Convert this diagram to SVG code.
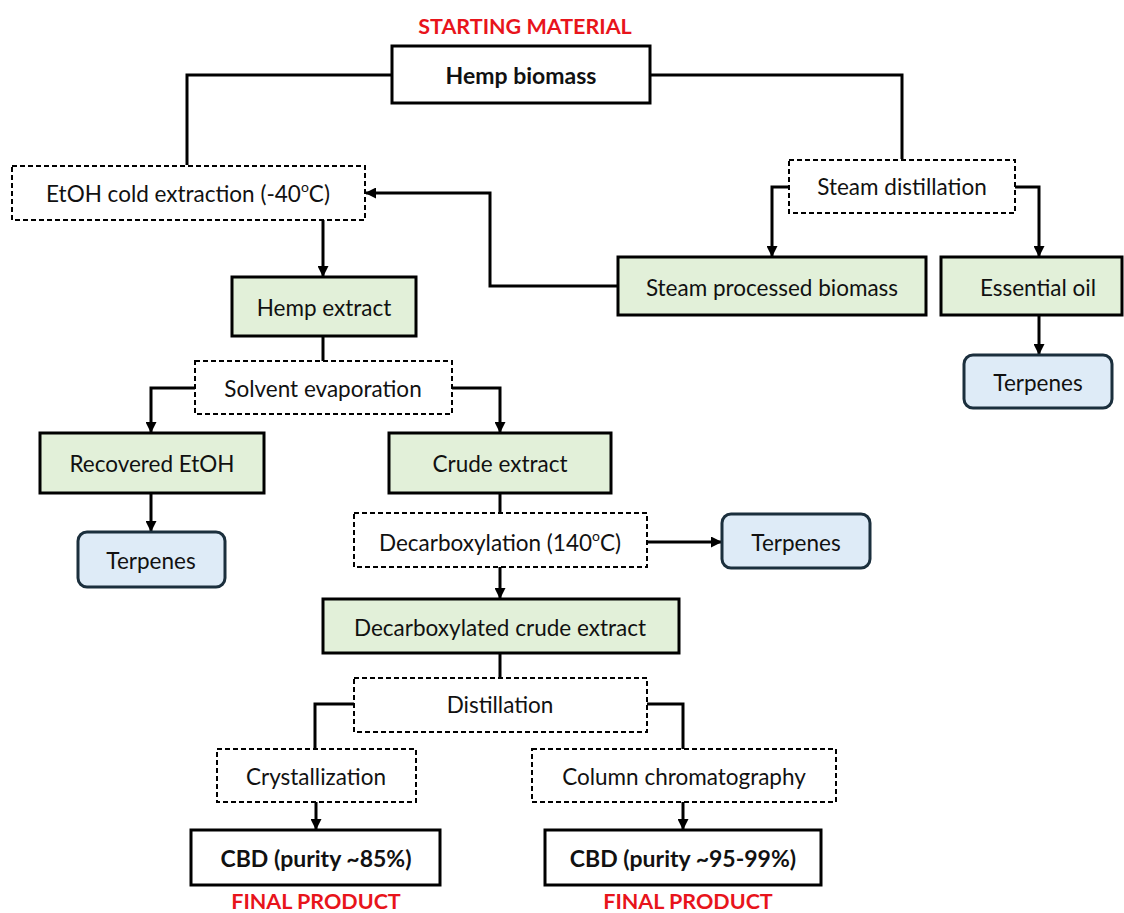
<svg xmlns="http://www.w3.org/2000/svg" width="1124" height="913" viewBox="0 0 1124 913">
<defs>
<marker id="ah" markerWidth="11" markerHeight="11" refX="10" refY="5.5" orient="auto" markerUnits="userSpaceOnUse">
<path d="M0,0 L11,5.5 L0,11 Z" fill="#000"/>
</marker>
<style>
.t{font-family:Lato,"Open Sans",sans-serif;font-size:22.5px;fill:#111;text-anchor:middle;dominant-baseline:central}
.b{font-weight:bold;font-size:23px}
.red{font-family:Lato,"Open Sans",sans-serif;font-size:21.5px;font-weight:bold;fill:#e8141b;text-anchor:middle;dominant-baseline:central}
.solid{fill:#fff;stroke:#000;stroke-width:3}
.dash{fill:#fff;stroke:#000;stroke-width:2;stroke-dasharray:5 3}
.green{fill:#e2f0d9;stroke:#000;stroke-width:3}
.blue{fill:#deebf7;stroke:#1b2f3d;stroke-width:3}
.c{fill:none;stroke:#000;stroke-width:3}
.ca{fill:none;stroke:#000;stroke-width:3;marker-end:url(#ah)}
</style>
</defs>
<rect width="1124" height="913" fill="#fff"/>
<text class="red" x="525" y="26">STARTING MATERIAL</text>
<text class="red" x="316" y="901">FINAL PRODUCT</text>
<text class="red" x="688" y="901">FINAL PRODUCT</text>
<g id="connectors">
<path class="c" d="M392,75 H187 V165"/>
<path class="c" d="M650,75 H902 V159"/>
<path class="ca" d="M323,220 V276"/>
<path class="ca" d="M617,286 H490 V193 H366"/>
<path class="ca" d="M789,187 H772 V256"/>
<path class="ca" d="M1015,187 H1039 V256"/>
<path class="ca" d="M1039,315 V354"/>
<path class="c" d="M323,337 V361"/>
<path class="ca" d="M195,388 H151 V432"/>
<path class="ca" d="M452,388 H500 V432"/>
<path class="ca" d="M151,493 V531"/>
<path class="c" d="M500,493 V513"/>
<path class="ca" d="M647,542 H721"/>
<path class="ca" d="M500,567 V598"/>
<path class="c" d="M500,653 V678"/>
<path class="c" d="M354,704 H315 V749"/>
<path class="c" d="M647,704 H683 V749"/>
<path class="ca" d="M316,802 V829"/>
<path class="ca" d="M683,802 V829"/>
</g>
<g id="hemp-biomass"><rect class="solid" x="392" y="46" width="258" height="57"/><text class="t b" x="521" y="75">Hemp biomass</text></g>
<g id="etoh-extraction"><rect class="dash" x="12" y="166" width="353" height="54"/><text class="t" x="188" y="193">EtOH cold extraction (-40<tspan font-size="14" dy="-7">o</tspan><tspan dy="7">C)</tspan></text></g>
<g id="steam-distillation"><rect class="dash" x="789" y="160" width="226" height="53"/><text class="t" x="902" y="186">Steam distillation</text></g>
<g id="hemp-extract"><rect class="green" x="232" y="277" width="184" height="59"/><text class="t" x="324" y="307">Hemp extract</text></g>
<g id="steam-processed-biomass"><rect class="green" x="618" y="257" width="308" height="58"/><text class="t" x="772" y="287">Steam processed biomass</text></g>
<g id="essential-oil"><rect class="green" x="941" y="257" width="181" height="58"/><text class="t" x="1038" y="287">Essential oil</text></g>
<g id="terpenes-1"><rect class="blue" x="964" y="355" width="148" height="53" rx="9"/><text class="t" x="1038" y="382">Terpenes</text></g>
<g id="solvent-evaporation"><rect class="dash" x="195" y="361" width="257" height="53"/><text class="t" x="323" y="388">Solvent evaporation</text></g>
<g id="recovered-etoh"><rect class="green" x="40" y="433" width="224" height="60"/><text class="t" x="152" y="463">Recovered EtOH</text></g>
<g id="crude-extract"><rect class="green" x="389" y="433" width="222" height="60"/><text class="t" x="500" y="463">Crude extract</text></g>
<g id="terpenes-2"><rect class="blue" x="78" y="532" width="147" height="55" rx="9"/><text class="t" x="151" y="560">Terpenes</text></g>
<g id="decarboxylation"><rect class="dash" x="354" y="513" width="293" height="54"/><text class="t" x="500" y="542">Decarboxylation (140<tspan font-size="14" dy="-7">o</tspan><tspan dy="7">C)</tspan></text></g>
<g id="terpenes-3"><rect class="blue" x="722" y="514" width="148" height="54" rx="9"/><text class="t" x="796" y="542">Terpenes</text></g>
<g id="decarboxylated-crude-extract"><rect class="green" x="323" y="599" width="356" height="54"/><text class="t" x="500" y="627">Decarboxylated crude extract</text></g>
<g id="distillation"><rect class="dash" x="354" y="678" width="293" height="54"/><text class="t" x="500" y="704">Distillation</text></g>
<g id="crystallization"><rect class="dash" x="217" y="749" width="199" height="53"/><text class="t" x="316" y="776">Crystallization</text></g>
<g id="column-chromatography"><rect class="dash" x="532" y="749" width="304" height="53"/><text class="t" x="684" y="776">Column chromatography</text></g>
<g id="cbd-85"><rect class="solid" x="191" y="830" width="249" height="55"/><text class="t b" x="316" y="858">CBD (purity ~85%)</text></g>
<g id="cbd-95"><rect class="solid" x="545" y="830" width="276" height="55"/><text class="t b" x="683" y="858">CBD (purity ~95-99%)</text></g>
</svg>
